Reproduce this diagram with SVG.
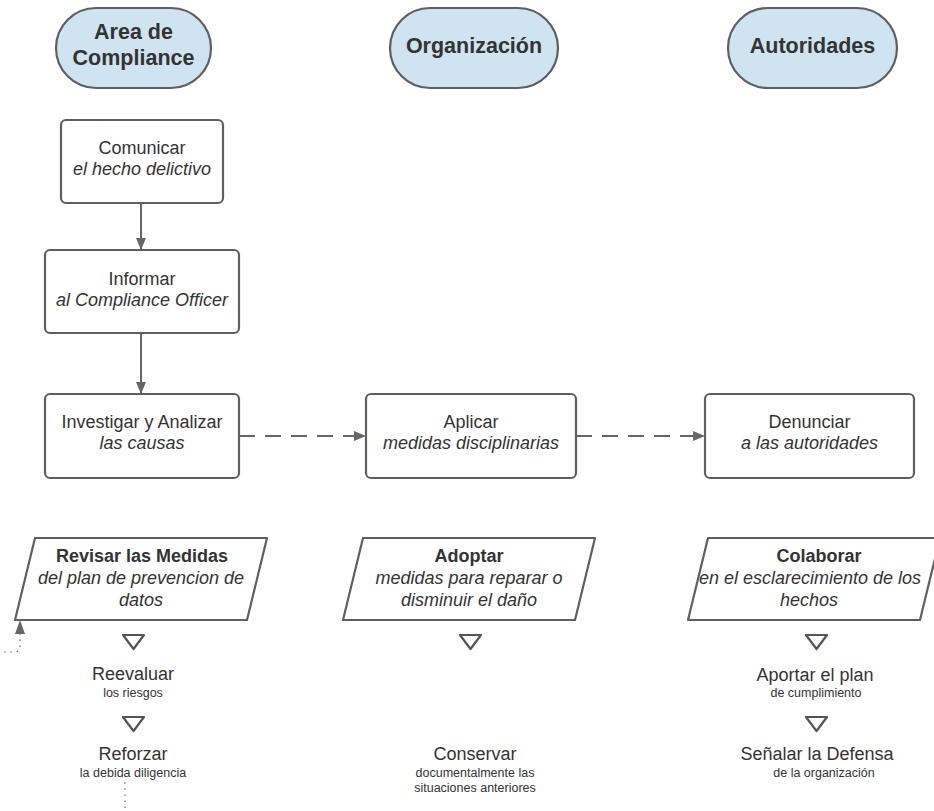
<svg xmlns="http://www.w3.org/2000/svg" width="934" height="811" viewBox="0 0 934 811">
<defs>
<style>
.pill{fill:#cfe4f0;stroke:#5f5f5f;stroke-width:2.2}
.box{fill:#fff;stroke:#5f5f5f;stroke-width:2.2}
.para{fill:#fff;stroke:#5f5f5f;stroke-width:2.2;stroke-linejoin:round}
.tri{fill:none;stroke:#555;stroke-width:2.2;stroke-linejoin:round}
text{font-family:"Liberation Sans",Arial,sans-serif;fill:#333;text-anchor:middle}
.h{font-size:21.5px;font-weight:bold}
.t{font-size:18px}
.b{font-size:18px;font-weight:bold}
.i{font-size:18px;font-style:italic}
.s{font-size:12.5px}
.solid{fill:none;stroke:#666;stroke-width:2}
.dash{fill:none;stroke:#666;stroke-width:2;stroke-dasharray:16 10}
.dot{fill:none;stroke:#777;stroke-width:1.6;stroke-dasharray:0.1 6;stroke-linecap:round}
</style>
<marker id="arr" markerWidth="12" markerHeight="10" refX="11" refY="5" orient="auto" markerUnits="userSpaceOnUse">
<path d="M0,0 L12,5 L0,10 Z" fill="#666"/>
</marker>
</defs>

<g id="connectors">
<path class="solid" d="M141,203 L141,249" marker-end="url(#arr)"/>
<path class="solid" d="M141,333 L141,393" marker-end="url(#arr)"/>
<path class="dash" d="M239,436 L365,436" marker-end="url(#arr)"/>
<path class="dash" d="M576,436 L704,436" marker-end="url(#arr)"/>
<path class="dot" d="M125,783 L125,811"/>
<path class="dot" d="M20,634 L20,646 Q20,652 14,652 L0,652"/>
<path d="M20,620 L25,634 L15,634 Z" fill="#666"/>
</g>

<g id="hdr-compliance">
<rect class="pill" x="56" y="8" width="155" height="80" rx="40"/>
<text class="h" x="133.5" y="39">Area de</text>
<text class="h" x="133.5" y="65">Compliance</text>
</g>
<g id="hdr-organizacion">
<rect class="pill" x="390" y="8" width="168" height="80" rx="40"/>
<text class="h" x="474" y="53">Organización</text>
</g>
<g id="hdr-autoridades">
<rect class="pill" x="728" y="8" width="169" height="80" rx="40"/>
<text class="h" x="812.5" y="53">Autoridades</text>
</g>

<g id="comunicar">
<rect class="box" x="61" y="120" width="162" height="83" rx="5"/>
<text class="t" x="142" y="154">Comunicar</text>
<text class="i" x="142" y="175">el hecho delictivo</text>
</g>
<g id="informar">
<rect class="box" x="45" y="250" width="194" height="83" rx="5"/>
<text class="t" x="142" y="285">Informar</text>
<text class="i" x="142" y="306">al Compliance Officer</text>
</g>
<g id="investigar">
<rect class="box" x="45" y="394" width="194" height="84" rx="5"/>
<text class="t" x="142" y="428">Investigar y Analizar</text>
<text class="i" x="142" y="449">las causas</text>
</g>
<g id="aplicar">
<rect class="box" x="366" y="394" width="210" height="84" rx="5"/>
<text class="t" x="471" y="428">Aplicar</text>
<text class="i" x="471" y="449">medidas disciplinarias</text>
</g>
<g id="denunciar">
<rect class="box" x="705" y="394" width="209" height="84" rx="5"/>
<text class="t" x="809.5" y="428">Denunciar</text>
<text class="i" x="809.5" y="449">a las autoridades</text>
</g>

<g id="revisar">
<path class="para" d="M35,538 L267,538 L247,620 L15,620 Z"/>
<text class="b" x="142" y="562">Revisar las Medidas</text>
<text class="i" x="141" y="584">del plan de prevencion de</text>
<text class="i" x="141" y="606">datos</text>
</g>
<g id="adoptar">
<path class="para" d="M363,538 L595,538 L575,620 L343,620 Z"/>
<text class="b" x="469" y="562">Adoptar</text>
<text class="i" x="469" y="584">medidas para reparar o</text>
<text class="i" x="469" y="606">disminuir el daño</text>
</g>
<g id="colaborar">
<path class="para" d="M708,538 L940,538 L920,620 L688,620 Z"/>
<text class="b" x="819" y="562">Colaborar</text>
<text class="i" x="810" y="584">en el esclarecimiento de los</text>
<text class="i" x="809" y="606">hechos</text>
</g>

<g id="reevaluar">
<path class="tri" d="M123,635 L144,635 L133.5,649 Z"/>
<text class="t" x="133" y="680">Reevaluar</text>
<text class="s" x="133" y="697">los riesgos</text>
</g>
<g id="reforzar">
<path class="tri" d="M123,717 L144,717 L133.5,731 Z"/>
<text class="t" x="133" y="760">Reforzar</text>
<text class="s" x="133" y="777">la debida diligencia</text>
</g>
<g id="tri-adoptar">
<path class="tri" d="M460,635 L481,635 L470.5,649 Z"/>
</g>
<g id="conservar">
<text class="t" x="475" y="760">Conservar</text>
<text class="s" x="475" y="777">documentalmente las</text>
<text class="s" x="475" y="792">situaciones anteriores</text>
</g>
<g id="aportar">
<path class="tri" d="M806,635 L827,635 L816.5,649 Z"/>
<text class="t" x="815" y="681">Aportar el plan</text>
<text class="s" x="816" y="697">de cumplimiento</text>
</g>
<g id="senalar">
<path class="tri" d="M806,717 L827,717 L816.5,731 Z"/>
<text class="t" x="817" y="760">Señalar la Defensa</text>
<text class="s" x="824" y="777">de la organización</text>
</g>
</svg>
